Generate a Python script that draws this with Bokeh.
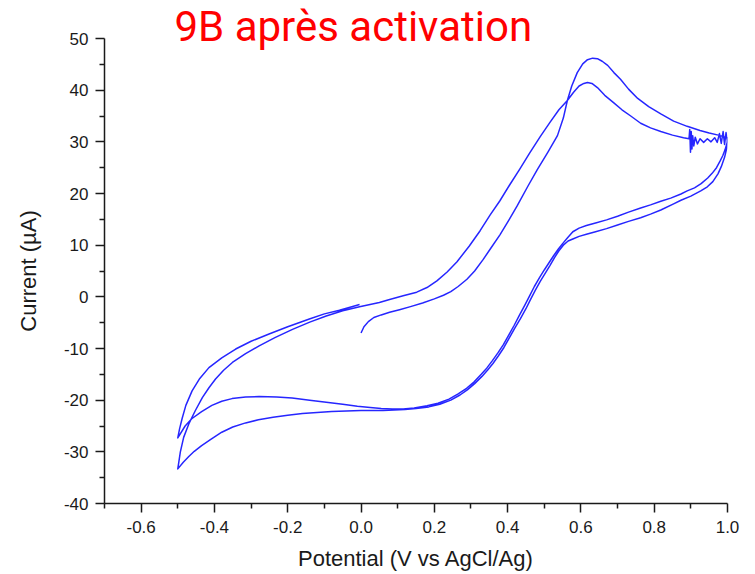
from bokeh.plotting import figure
from bokeh.models import Range1d, FixedTicker, LinearAxis
from bokeh.embed import file_html
from bokeh.resources import INLINE

# ---- data (potential V vs AgCl/Ag, current uA) ----
# sweep 1: anodic, from rest potential 0 V
s1_v = [0.000, 0.008, 0.020, 0.035, 0.055, 0.078, 0.105, 0.135, 0.168, 0.200, 0.225, 0.245, 0.265, 0.289,
        0.310, 0.333, 0.355, 0.379, 0.403, 0.426, 0.456, 0.481, 0.510, 0.536, 0.552, 0.563, 0.575, 0.590,
        0.605, 0.618, 0.632, 0.645, 0.658, 0.673, 0.690, 0.708, 0.730, 0.755, 0.785, 0.818, 0.853, 0.890,
        0.925, 0.950, 0.975, 0.990, 1.000]
s1_i = [-7.0, -5.8, -4.8, -4.0, -3.5, -3.0, -2.5, -1.9, -1.2, -0.4, 0.3, 1.0, 2.0, 3.4,
        5.0, 7.2, 9.5, 12.0, 14.8, 17.6, 21.5, 24.6, 28.0, 31.2, 34.6, 38.0, 40.8, 43.4,
        45.1, 45.9, 46.2, 46.1, 45.6, 44.8, 43.4, 42.1, 40.2, 38.4, 36.8, 35.4, 34.0, 33.0,
        32.2, 31.7, 31.3, 31.0, 30.8]

# sweep 2: cathodic, 1.0 V -> -0.5 V
s2_v = [1.000, 0.998, 0.992, 0.983, 0.974, 0.960, 0.945, 0.927, 0.900, 0.873, 0.853, 0.818, 0.790, 0.763,
        0.730, 0.700, 0.670, 0.640, 0.615, 0.595, 0.578, 0.565, 0.552, 0.540, 0.528, 0.515, 0.502, 0.489,
        0.475, 0.462, 0.450, 0.435, 0.420, 0.405, 0.390, 0.375, 0.360, 0.345, 0.330, 0.310, 0.290, 0.270,
        0.245, 0.215, 0.185, 0.150, 0.120, 0.090, 0.060, 0.030, 0.000, -0.040, -0.080, -0.120, -0.160,
        -0.200, -0.240, -0.280, -0.315, -0.350, -0.380, -0.410, -0.435, -0.455, -0.470, -0.485, -0.500]
s2_i = [30.6, 28.8, 27.0, 25.2, 23.8, 22.3, 21.3, 20.5, 19.5, 18.7, 18.0, 16.8, 16.0, 15.3,
        14.6, 13.9, 13.2, 12.6, 12.1, 11.7, 11.2, 10.8, 10.0, 8.9, 7.6, 6.0, 4.5, 3.0,
        1.2, -0.6, -2.3, -4.2, -6.0, -7.9, -9.8, -11.4, -12.9, -14.2, -15.4, -16.8, -18.0, -19.0,
        -20.0, -20.8, -21.3, -21.6, -21.8, -21.9, -22.0, -22.0, -22.0, -22.1, -22.2, -22.4, -22.6,
        -22.9, -23.3, -23.8, -24.4, -25.2, -26.2, -27.6, -28.8, -29.9, -30.9, -32.0, -33.3]

# sweep 3: anodic, -0.5 V -> 1.0 V
s3_v = [-0.500, -0.493, -0.484, -0.470, -0.452, -0.433, -0.415, -0.397, -0.375, -0.351, -0.315, -0.278,
        -0.235, -0.187, -0.140, -0.095, -0.050, -0.004, 0.050, 0.078, 0.115, 0.152, 0.180, 0.207, 0.235,
        0.262, 0.295, 0.325, 0.352, 0.379, 0.405, 0.434, 0.460, 0.489, 0.516, 0.540, 0.563, 0.580, 0.595,
        0.608, 0.618, 0.630, 0.645, 0.665, 0.689, 0.712, 0.736, 0.763, 0.790, 0.818, 0.850, 0.880, 0.895,
        0.897, 0.899, 0.901, 0.903, 0.905, 0.908, 0.912, 0.918, 0.925, 0.935, 0.945, 0.955, 0.965, 0.972,
        0.978, 0.983, 0.988, 0.992, 0.996, 1.000]
s3_i = [-33.3, -30.0, -27.2, -24.6, -22.0, -19.5, -17.6, -15.9, -14.2, -12.7, -11.0, -9.5,
        -7.9, -6.3, -4.9, -3.7, -2.7, -1.9, -1.1, -0.5, 0.2, 0.9, 1.8, 3.1, 4.8,
        6.8, 9.8, 12.8, 15.8, 18.6, 21.6, 24.8, 27.8, 31.0, 33.8, 36.2, 38.0, 39.6, 40.8,
        41.3, 41.5, 41.3, 40.5, 39.0, 37.6, 36.2, 35.0, 33.6, 32.7, 32.0, 31.3, 30.8, 30.6,
        32.4, 28.0, 32.0, 28.6, 31.2, 29.2, 30.9, 29.6, 30.6, 29.9, 30.6, 30.0, 30.8, 29.9,
        31.6, 29.7, 32.0, 29.5, 31.8, 30.0]

# sweep 4: cathodic, 1.0 V -> -0.5 V
s4_v = [1.000, 0.998, 0.993, 0.987, 0.980, 0.970, 0.958, 0.946, 0.928, 0.910, 0.890, 0.873, 0.845, 0.818,
        0.790, 0.763, 0.730, 0.700, 0.670, 0.640, 0.615, 0.595, 0.578, 0.563, 0.550, 0.538, 0.525, 0.512,
        0.500, 0.487, 0.473, 0.460, 0.447, 0.432, 0.418, 0.403, 0.388, 0.373, 0.358, 0.343, 0.328, 0.308,
        0.288, 0.265, 0.240, 0.210, 0.180, 0.145, 0.115, 0.085, 0.055, 0.025, -0.010, -0.050, -0.095,
        -0.140, -0.188, -0.230, -0.278, -0.315, -0.352, -0.380, -0.407, -0.435, -0.462, -0.480, -0.500]
s4_i = [30.0, 29.6, 28.4, 27.3, 26.3, 25.0, 23.9, 23.0, 21.9, 21.1, 20.5, 19.9, 19.1, 18.5,
        17.8, 17.2, 16.4, 15.6, 14.9, 14.3, 13.8, 13.3, 12.6, 11.4, 10.3, 9.2, 7.9, 6.5,
        5.2, 3.7, 2.0, 0.2, -1.6, -3.6, -5.5, -7.4, -9.3, -10.9, -12.4, -13.8, -15.0, -16.5,
        -17.7, -18.8, -19.8, -20.6, -21.1, -21.5, -21.7, -21.7, -21.6, -21.4, -21.2, -20.8, -20.4,
        -20.0, -19.6, -19.4, -19.3, -19.4, -19.7, -20.2, -21.0, -22.2, -23.6, -25.0, -27.3]

# sweep 5: anodic, -0.5 V -> 0 V (end of experiment)
s5_v = [-0.500, -0.495, -0.488, -0.478, -0.461, -0.440, -0.415, -0.380, -0.342, -0.300, -0.251, -0.200,
        -0.141, -0.100, -0.059, -0.030, -0.004]
s5_i = [-27.3, -25.5, -23.5, -21.0, -18.2, -15.8, -13.7, -11.8, -10.1, -8.6, -7.2, -5.8,
        -4.3, -3.3, -2.6, -2.0, -1.5]

x_ticks = [-0.6, -0.4, -0.2, 0.0, 0.2, 0.4, 0.6, 0.8, 1.0]
x_minor = [-0.7, -0.5, -0.3, -0.1, 0.1, 0.3, 0.5, 0.7, 0.9]
y_ticks = [-40, -30, -20, -10, 0, 10, 20, 30, 40, 50]
y_minor = [-35, -25, -15, -5, 5, 15, 25, 35, 45]

title_text = "9B après activation"
x_label = "Potential (V vs AgCl/Ag)"
y_label = "Current (µA)"

# ---- figure ----
p = figure(width=752, height=574, output_backend="svg", toolbar_location=None,
           x_range=Range1d(-0.7, 1.0), y_range=Range1d(-40, 50),
           x_axis_location=None, y_axis_location=None,
           min_border_left=104, min_border_right=25, min_border_top=38, min_border_bottom=71)
p.outline_line_color = None
p.xgrid.visible = False
p.ygrid.visible = False
p.background_fill_color = "white"
p.border_fill_color = "white"

# title: negative standoff lets it hang down to the top of the frame as in the original
p.title.text = title_text
p.title.text_font = "Roboto"
p.title.text_font_size = "42px"
p.title.text_font_style = "normal"
p.title.text_color = "#ff0000"
p.title.align = "left"
p.title.offset = 70
p.title.standoff = -25
p.title.vertical_align = "bottom"

all_v = s1_v + s2_v[1:] + s3_v[1:] + s4_v[1:] + s5_v[1:]
all_i = s1_i + s2_i[1:] + s3_i[1:] + s4_i[1:] + s5_i[1:]
p.line(all_v, all_i, line_color="#2626ff", line_width=1.5, line_join="round")

font = "Liberation Sans"
ink = "#1a1a1a"
xaxis = LinearAxis(ticker=FixedTicker(ticks=x_ticks, minor_ticks=x_minor),
                   major_label_overrides={t: f"{t:.1f}" for t in x_ticks})
yaxis = LinearAxis(ticker=FixedTicker(ticks=y_ticks, minor_ticks=y_minor),
                   major_label_overrides={t: f"{t:d}" for t in y_ticks})
for ax, lab in ((xaxis, x_label), (yaxis, y_label)):
    ax.axis_label = lab
    ax.axis_label_text_font = font
    ax.axis_label_text_font_size = "22px"
    ax.axis_label_text_font_style = "normal"
    ax.axis_label_text_color = ink
    ax.major_label_text_font = font
    ax.major_label_text_font_size = "17px"
    ax.major_label_text_color = ink
    ax.axis_line_color = ink
    ax.axis_line_width = 1.5
    ax.major_tick_line_color = ink
    ax.major_tick_line_width = 1.5
    ax.minor_tick_line_color = ink
    ax.minor_tick_line_width = 1.5
    ax.major_tick_out = 9
    ax.major_tick_in = 0
    ax.minor_tick_out = 5
    ax.minor_tick_in = 0
xaxis.major_label_standoff = 8
yaxis.major_label_standoff = 7
xaxis.axis_label_standoff = 10
yaxis.axis_label_standoff = 20
p.add_layout(xaxis, "below")
p.add_layout(yaxis, "left")

open("out.html", "w").write(file_html(p, INLINE))
